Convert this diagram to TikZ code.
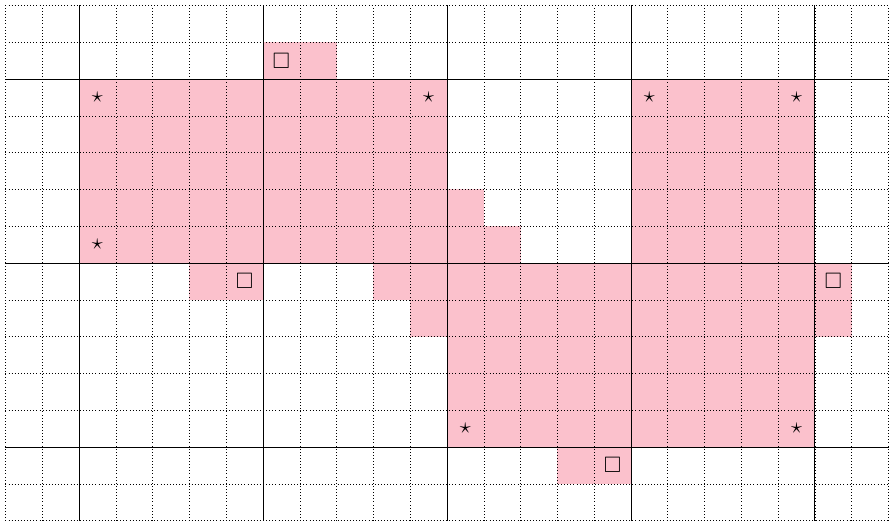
\documentclass[tikz,border=0pt]{standalone}
\usepackage[dvipsnames,svgnames,x11names]{xcolor}
\definecolor{cell-fill}{HTML}{FBC1CC}
\usepackage{tikz}
\usetikzlibrary{calc,positioning}
\usepackage{amssymb}

\begin{document}
\begin{tikzpicture}[
  font=\LARGE,
  cell/.style={fill=cell-fill, draw=none},
  fine/.style={black, line width=0.4pt, dotted},
  major/.style={black, line width=0.7pt},
  sym/.style={inner sep=0pt, anchor=center}
]
  \useasboundingbox (-0.147,-0.01) rectangle (24.04,14.147);

  % shaded cells
  \fill[cell] (7,12) rectangle (9,13);
  \fill[cell] (2,7) rectangle (12,12);
  \fill[cell] (12,7) rectangle (13,9);
  \fill[cell] (13,7) rectangle (14,8);
  \fill[cell] (17,7) rectangle (22,12);
  \fill[cell] (5,6) rectangle (7,7);
  \fill[cell] (10,6) rectangle (12,7);
  \fill[cell] (11,5) rectangle (12,6);
  \fill[cell] (12,2) rectangle (22,7);
  \fill[cell] (22,5) rectangle (23,7);
  \fill[cell] (15,1) rectangle (17,2);

  % grid
  \draw[fine] (0,0) grid (24,14);
  \foreach \x in {2,7,...,22}
    \draw[major] (\x,0) -- (\x,14);
  \foreach \y in {2,7,12}
    \draw[major] (0,\y) -- (24,\y);

  % corner marks
  \foreach \x/\y [count=\i] in {2.5/11.5, 11.5/11.5, 2.5/7.5, 17.5/11.5, 21.5/11.5, 12.5/2.5, 21.5/2.5}
    \node[sym] (star-\i) at (\x,\y) {$\star$};

  % box marks
  \foreach \x/\y [count=\i] in {7.5/12.5, 6.5/6.5, 22.5/6.5, 16.5/1.5}
    \node[sym] (box-\i) at (\x,\y) {$\square$};
\end{tikzpicture}
\end{document}
